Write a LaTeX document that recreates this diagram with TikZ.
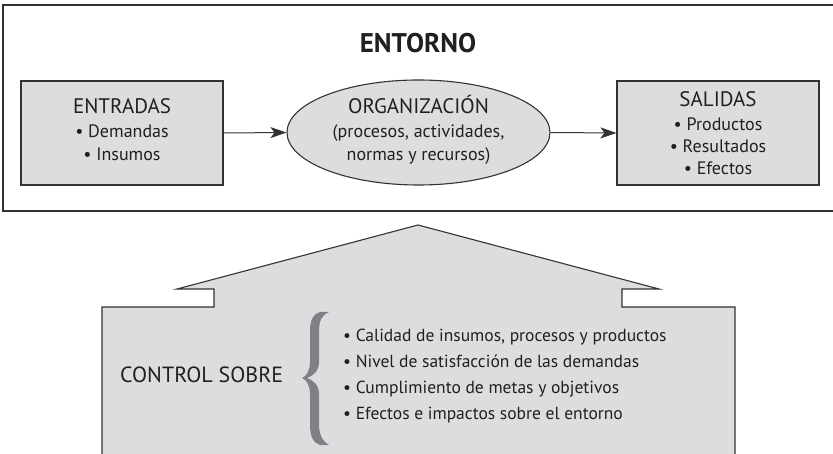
\documentclass[tikz,border=0pt]{standalone}
\usepackage{fontspec}
\setmainfont{PT Sans}
\usetikzlibrary{arrows.meta,shapes.geometric}
\definecolor{boxfill}{HTML}{DCDDDF}
\definecolor{edge}{HTML}{333333}
\definecolor{bracegray}{HTML}{7F8083}
\definecolor{ink}{HTML}{231F20}
\tikzset{
  frameline/.style={draw=edge, line width=1.3pt},
  graybox/.style={draw=edge, fill=boxfill, line width=1.1pt, rectangle, minimum width=202pt, minimum height=104pt, inner sep=0pt},
  orgshape/.style={draw=edge, fill=boxfill, line width=1.1pt, ellipse, minimum width=263pt, minimum height=105pt, inner sep=0pt},
  flow/.style={draw=edge, line width=1pt, -{Stealth[length=16pt,width=11pt,inset=4pt]}},
  title/.style={text=ink, font=\fontsize{21}{24}\selectfont, anchor=base, inner sep=0pt},
  item/.style={text=ink, font=\fontsize{18}{21}\selectfont, anchor=base, inner sep=0pt},
  ctl/.style={text=ink, font=\fontsize{17.5}{20}\selectfont, anchor=base west, inner sep=0pt}
}
\begin{document}
\begin{tikzpicture}[x=1pt,y=-1pt]
\clip (0,0) rectangle (833,454);
% outer frame (open at right)
\draw[frameline] (840,5) -- (3,5) -- (3,211) -- (840,211);
\node[text=ink, font=\bfseries\fontsize{27}{30}\selectfont, anchor=base, inner sep=0pt] (entorno) at (418,53) {ENTORNO};
% boxes
\node[graybox] (in) at (122,133) {};
\node[orgshape] (org) at (418.5,132.5) {};
\node[graybox] (out) at (718,133) {};
\draw[flow] (in.east) -- (org.west);
\draw[flow] (org.east) -- (out.west);
% texts
\node[title] (inT) at (122,114) {ENTRADAS};
\node[item] (in1) at (122,138) {• Demandas};
\node[item] (in2) at (122,161) {• Insumos};
\node[title] (orgT) at (418.5,114) {ORGANIZACIÓN};
\node[item] (org1) at (418.5,138) {(procesos, actividades,};
\node[item] (org2) at (418.5,161) {normas y recursos)};
\node[title] (outT) at (718,107) {SALIDAS};
\node[item] (out1) at (718,131) {• Productos};
\node[item] (out2) at (718,153) {• Resultados};
\node[item] (out3) at (718,175) {• Efectos};
% house shape
\draw[draw=edge, fill=boxfill, line width=1.1pt]
  (102,470) -- (102,307) -- (214,307) -- (214,289) -- (177,289) -- (418,225)
  -- (659,289) -- (622,289) -- (622,307) -- (735,307) -- (735,470);
\node[text=ink, font=\fontsize{22}{26}\selectfont, anchor=base west, inner sep=0pt] (ctrl) at (120,382) {CONTROL SOBRE};
% brace
\fill[bracegray]
  (320,312) .. controls (313,314) and (310,320) .. (310,332)
  -- (310,362) .. controls (310,370) and (307,376) .. (302,378)
  .. controls (307,380) and (310,386) .. (310,394)
  -- (310,424) .. controls (310,436) and (313,443) .. (320,445)
  -- (329,445) .. controls (322,441) and (319,434) .. (319,424)
  -- (319,394) .. controls (319,385) and (313,380) .. (307,378)
  .. controls (313,376) and (319,371) .. (319,362)
  -- (319,332) .. controls (319,320) and (322,315) .. (329,312) -- cycle;
\node[ctl] (c1) at (343,342) {• Calidad de insumos, procesos y productos};
\node[ctl] (c2) at (343,368) {• Nivel de satisfacción de las demandas};
\node[ctl] (c3) at (343,394) {• Cumplimiento de metas y objetivos};
\node[ctl] (c4) at (343,419) {• Efectos e impactos sobre el entorno};
\end{tikzpicture}
\end{document}
